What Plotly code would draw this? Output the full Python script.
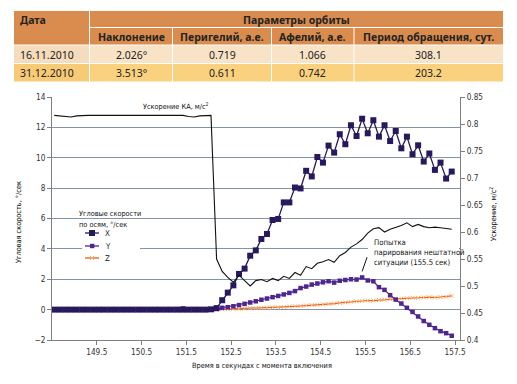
import plotly.graph_objects as go

# ---------------- data ----------------
time_s = [148.55, 148.675, 148.8, 148.925, 149.05, 149.175, 149.3, 149.425, 149.55, 149.675,
          149.8, 149.925, 150.05, 150.175, 150.3, 150.425, 150.55, 150.675, 150.8, 150.925,
          151.05, 151.175, 151.3, 151.425, 151.55, 151.675, 151.8, 151.925, 152.05, 152.175,
          152.3, 152.425, 152.55, 152.675, 152.8, 152.925, 153.05, 153.175, 153.3, 153.425,
          153.55, 153.675, 153.8, 153.925, 154.05, 154.175, 154.3, 154.425, 154.55, 154.675,
          154.8, 154.925, 155.05, 155.175, 155.3, 155.425, 155.55, 155.675, 155.8, 155.925,
          156.05, 156.175, 156.3, 156.425, 156.55, 156.675, 156.8, 156.925, 157.05, 157.175,
          157.3, 157.425]

omega_x = [0, 0, 0, 0, 0, 0, 0, 0, 0, 0,
           0, 0, 0, 0, 0, 0, 0, 0, 0, 0,
           0, 0, 0, 0, 0, 0, 0, 0, 0.02, 0.1,
           0.62, 1.12, 1.6, 2.35, 2.7, 3.55, 3.9, 4.65, 4.98, 5.9,
           5.97, 7.06, 7.06, 8.04, 7.98, 9.14, 8.77, 10.05, 9.68, 10.8,
           10.34, 11.55, 10.89, 12.14, 11.43, 12.57, 11.61, 12.47, 11.39, 12.14,
           11.1, 11.76, 10.62, 11.39, 10.23, 10.82, 9.75, 10.28, 9.2, 9.68,
           8.63, 9.09]

omega_y = [0, 0, 0, 0, 0, 0, 0, 0, 0, 0,
           0, 0, 0, 0, 0, 0, 0, 0, 0, 0,
           0, 0, 0.03, 0.08, 0.02, 0, 0, 0, 0, 0.05,
           0.12, 0.16, 0.22, 0.3, 0.38, 0.47, 0.55, 0.65, 0.73, 0.82,
           0.9, 1.0, 1.1, 1.22, 1.42, 1.52, 1.65, 1.72, 1.8, 1.87,
           1.78, 1.9, 1.95, 2.0, 1.98, 2.12, 1.92, 1.87, 1.48, 1.3,
           0.95, 0.66, 0.4, 0.12, -0.15, -0.45, -0.75, -1.0, -1.22, -1.42,
           -1.55, -1.72]

omega_z = [0, 0, 0, 0, 0, 0, 0, 0, 0, 0,
           0, 0, 0, 0, 0, 0, 0, 0, 0, 0,
           0, 0, 0, 0, 0, 0, 0, 0, 0, 0,
           0.02, 0.03, 0.05, 0.06, 0.08, 0.09, 0.1, 0.12, 0.13, 0.15,
           0.16, 0.17, 0.2, 0.22, 0.24, 0.27, 0.3, 0.32, 0.35, 0.37,
           0.4, 0.44, 0.48, 0.52, 0.55, 0.57, 0.6, 0.59, 0.63, 0.66,
           0.68, 0.7, 0.72, 0.75, 0.78, 0.77, 0.8, 0.82, 0.8, 0.83,
           0.85, 0.9]

accel = [0.816, 0.815, 0.813, 0.813, 0.815, 0.816, 0.816, 0.816, 0.816, 0.816,
         0.816, 0.816, 0.816, 0.816, 0.816, 0.816, 0.816, 0.816, 0.816, 0.816,
         0.816, 0.816, 0.816, 0.816, 0.814, 0.813, 0.815, 0.816, 0.816, 0.55,
         0.527, 0.516, 0.507, 0.52, 0.51, 0.5, 0.51, 0.512, 0.508, 0.514,
         0.51, 0.518, 0.514, 0.525, 0.52, 0.536, 0.532, 0.542, 0.545, 0.549,
         0.544, 0.556, 0.562, 0.572, 0.578, 0.586, 0.598, 0.606, 0.608, 0.6,
         0.605, 0.608, 0.612, 0.617, 0.61, 0.614, 0.61, 0.608, 0.609, 0.608,
         0.607, 0.605]

x_tick_vals = [149.5, 150.5, 151.5, 152.5, 153.5, 154.5, 155.5, 156.5, 157.5]
x_tick_text = ["149.5", "150.5", "151.5", "152.5", "153.5", "154.5", "155.5", "156.5", "157.5"]
y_left_ticks = [-2, 0, 2, 4, 6, 8, 10, 12, 14]
y_right_vals = [0.4, 0.45, 0.5, 0.55, 0.6, 0.65, 0.7, 0.75, 0.8, 0.85]
y_right_text = ["0.4", "0.45", "0.5", "0.55", "0.6", "0.65", "0.7", "0.75", "0.8", "0.85"]

table_title_date = "Дата"
table_title_group = "Параметры орбиты"
table_columns = ["Наклонение", "Перигелий, а.е.", "Афелий, а.е.", "Период обращения, сут."]
table_dates = ["16.11.2010", "31.12.2010"]
table_rows = [["2.026°", "0.719", "1.066", "308.1"],
              ["3.513°", "0.611", "0.742", "203.2"]]

series_names = ["X", "Y", "Z"]
annotation_peak_time = 155.425
annotation_peak_value = 2.12

# ---------------- layout helpers ----------------
W, H = 517, 384
L, R, T, B = 52, 460, 97, 340


def px(x):
    return (x - L) / (R - L)


def py(y):
    return (B - y) / (B - T)


CH_FONT = "DejaVu Sans Condensed, Liberation Sans Narrow, Roboto, sans-serif"
TB_FONT = "Noto Sans, Liberation Sans, sans-serif"
C_X = "#28185e"
C_Y = "#4f2590"
C_Z = "#ee5a1c"
C_ZM = "#f7b36a"
GRID = "#8394a6"
CH_SIZE = 7.3

fig = go.Figure()

fig.add_trace(go.Scatter(x=time_s, y=omega_z, mode="lines+markers", name=series_names[2],
                         line=dict(color=C_Z, width=1.2),
                         marker=dict(symbol="x-thin", size=4, line=dict(color=C_ZM, width=1)),
                         showlegend=False))
fig.add_trace(go.Scatter(x=time_s, y=omega_y, mode="lines+markers", name=series_names[1],
                         line=dict(color=C_Y, width=1.2),
                         marker=dict(symbol="square", size=4.5, color=C_Y),
                         showlegend=False))
fig.add_trace(go.Scatter(x=time_s, y=accel, mode="lines", name="accel", yaxis="y2",
                         line=dict(color="#111111", width=1.1), showlegend=False))
fig.add_trace(go.Scatter(x=time_s, y=omega_x, mode="lines+markers", name=series_names[0],
                         line=dict(color=C_X, width=1.3),
                         marker=dict(symbol="square", size=6, color=C_X),
                         showlegend=False))

shapes = []
annotations = []

# ---------------- table ----------------
col_edges = [14, 89.5, 172.5, 271.5, 354, 503]
row_edges = [11, 27.5, 45, 63.5, 81.5]
HEAD = "#d98c4d"
ROW1 = "#f8e3c7"
ROW1D = "#f5dcbc"
ROW2 = "#fad27f"
ROW2D = "#f7ca76"


def rect(x0, y0, x1, y1, color, layer="above"):
    shapes.append(dict(type="rect", xref="paper", yref="paper",
                       x0=px(x0), x1=px(x1), y0=py(y1), y1=py(y0),
                       fillcolor=color, layer=layer, line=dict(width=0)))


g = 1.0  # white gap
rect(col_edges[0], row_edges[0], col_edges[1] - g / 2, row_edges[2] - g / 2, HEAD)
rect(col_edges[1] + g / 2, row_edges[0], col_edges[5], row_edges[1] - g / 2, HEAD)
for c in range(1, 5):
    rect(col_edges[c] + g / 2, row_edges[1] + g / 2, col_edges[c + 1] - (g / 2 if c < 4 else 0),
         row_edges[2] - g / 2, HEAD)
for r, (bg, bgd) in enumerate([(ROW1, ROW1D), (ROW2, ROW2D)]):
    y0 = row_edges[2 + r] + g / 2
    y1 = row_edges[3 + r] - (g / 2 if r == 0 else 0)
    rect(col_edges[0], y0, col_edges[1] - g / 2, y1, bgd)
    for c in range(1, 5):
        rect(col_edges[c] + g / 2, y0, col_edges[c + 1] - (g / 2 if c < 4 else 0), y1, bg)


def text(x, y, s, size, anchor="center", bold=False, font=TB_FONT, color="#222222", **kw):
    a = dict(xref="paper", yref="paper", x=px(x), y=py(y), text=("<b>%s</b>" % s) if bold else s,
             showarrow=False, xanchor=anchor, yanchor="middle",
             font=dict(family=font, size=size, color=color))
    a.update(kw)
    annotations.append(a)


text(18, 19.5, table_title_date, 10.5, anchor="left", bold=True)
text((col_edges[1] + col_edges[5]) / 2, 19.5, table_title_group, 10.5, bold=True)
for c, name in enumerate(table_columns):
    text((col_edges[c + 1] + col_edges[c + 2]) / 2, 36.5, name, 10.5, bold=True)
for r in range(2):
    yc = (row_edges[2 + r] + row_edges[3 + r]) / 2 + 0.5
    text(18, yc, table_dates[r], 10.5, anchor="left")
    for c, val in enumerate(table_rows[r]):
        text((col_edges[c + 1] + col_edges[c + 2]) / 2, yc, val, 10.5)

# ---------------- chart annotations ----------------
TC = "#111111"
text(176, 106, "Ускорение КА, м/с<sup>2</sup>", CH_SIZE, font=CH_FONT, color=TC)

# legend (manual)
rect(82, 227, 140, 266, "white", layer="above")
text(77, 213, "Угловые скорости", CH_SIZE, anchor="left", font=CH_FONT, color=TC)
text(77, 224, "по осям, °/сек", CH_SIZE, anchor="left", font=CH_FONT, color=TC)
leg_y = [233, 246, 258]
leg_col = [C_X, C_Y, C_Z]
for k, yy in enumerate(leg_y):
    shapes.append(dict(type="line", xref="paper", yref="paper", x0=px(85), x1=px(99), y0=py(yy), y1=py(yy),
                       line=dict(color=leg_col[k], width=1.3)))
    if k == 0:
        rect(89, yy - 3, 95, yy + 3, C_X)
    elif k == 1:
        rect(90, yy - 2.2, 94.4, yy + 2.2, C_Y)
    else:
        shapes.append(dict(type="line", xref="paper", yref="paper", x0=px(90), x1=px(94), y0=py(yy - 2),
                           y1=py(yy + 2), line=dict(color=C_ZM, width=1)))
        shapes.append(dict(type="line", xref="paper", yref="paper", x0=px(90), x1=px(94), y0=py(yy + 2),
                           y1=py(yy - 2), line=dict(color=C_ZM, width=1)))
    text(103, yy, series_names[k], CH_SIZE + 0.5, anchor="left", font=CH_FONT, color=TC)

# callout annotation
rect(368, 237, 459, 269, "white", layer="above")
text(372, 242.5, "Попытка", CH_SIZE + 0.4, anchor="left", font=CH_FONT, color=TC)
text(372, 252.5, "парирования нештатной", CH_SIZE + 0.4, anchor="left", font=CH_FONT, color=TC)
text(372, 262.5, "ситуации (155.5 сек)", CH_SIZE + 0.4, anchor="left", font=CH_FONT, color=TC)
shapes.append(dict(type="line", xref="x", yref="y", x0=annotation_peak_time + 0.11, y0=3.45,
                   x1=annotation_peak_time, y1=annotation_peak_value + 0.4,
                   line=dict(color=TC, width=1)))

# axis titles
text(18, 222, "Угловая скорость, °/сек", CH_SIZE, font=CH_FONT, color=TC, textangle=-90)
text(493, 214, "Ускорение, м/с<sup>2</sup>", CH_SIZE, font=CH_FONT, color=TC, textangle=-90)
text(262, 365, "Время в секундах с момента включения", CH_SIZE, font=CH_FONT, color=TC)

tickfont = dict(family=CH_FONT, size=8.2, color="#333333")
fig.update_layout(
    width=W, height=H,
    margin=dict(l=L, r=W - R, t=T, b=H - B, pad=0),
    paper_bgcolor="white", plot_bgcolor="white",
    showlegend=False,
    font=dict(family=CH_FONT, size=CH_SIZE, color="#333333"),
    xaxis=dict(range=[148.5, 157.61], tickmode="array", tickvals=x_tick_vals, ticktext=x_tick_text,
               ticks="outside", ticklen=4, tickcolor="#808080", showgrid=False, zeroline=False,
               showline=True, linecolor="#808080", linewidth=1, tickfont=tickfont),
    yaxis=dict(range=[-2, 14], tickmode="array", tickvals=y_left_ticks, ticks="outside", ticklen=4,
               tickcolor="#808080", showgrid=True, gridcolor=GRID, gridwidth=1, zeroline=False,
               showline=True, linecolor="#808080", linewidth=1, tickfont=tickfont),
    yaxis2=dict(range=[0.4, 0.85], overlaying="y", side="right", tickmode="array", tickvals=y_right_vals,
                ticktext=y_right_text, ticks="outside", ticklen=4, tickcolor="#808080", showgrid=False,
                zeroline=False, showline=True, linecolor="#808080", linewidth=1, tickfont=tickfont),
    shapes=shapes, annotations=annotations,
)

fig.write_html("out.html", config={"displayModeBar": False},
               post_script="document.body.style.margin='0';")
